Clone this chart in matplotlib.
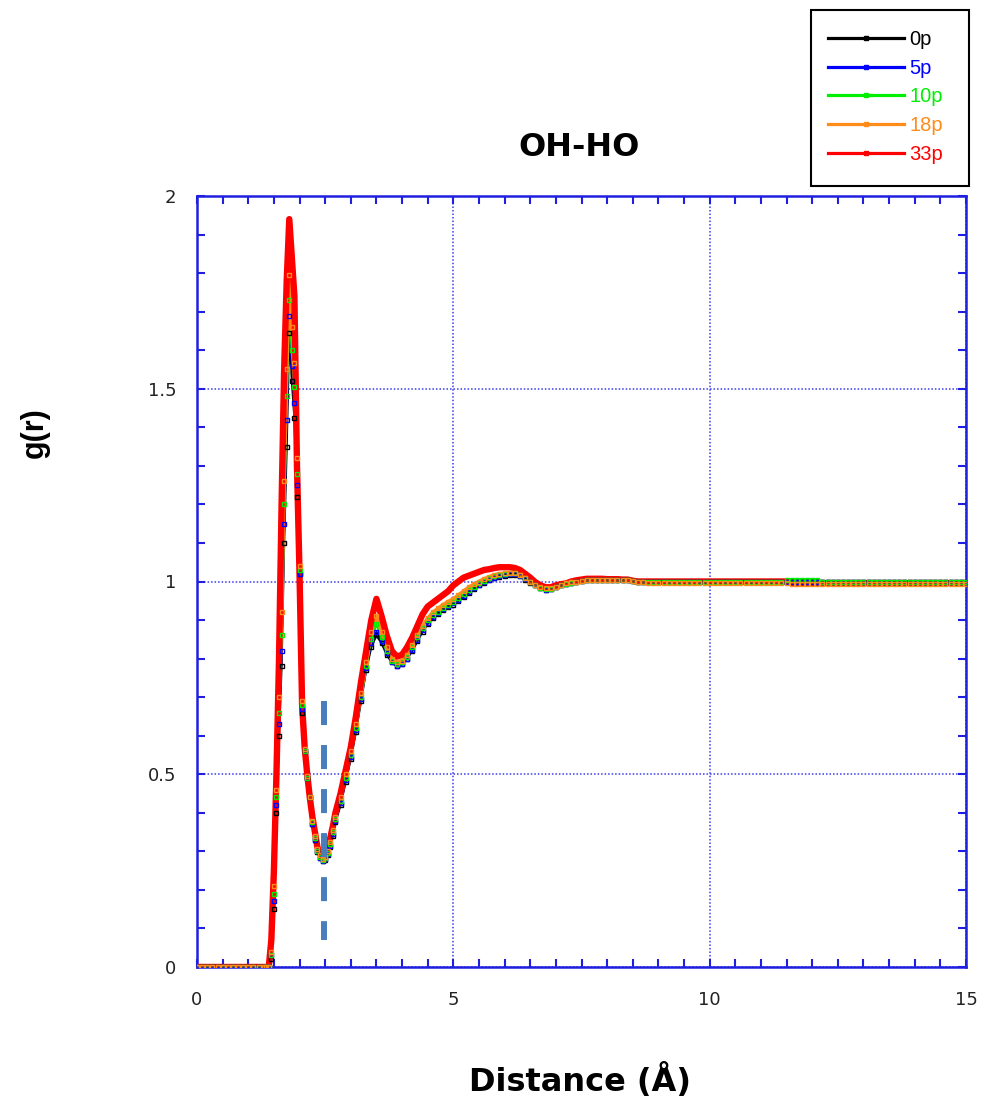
import numpy as np
import matplotlib
matplotlib.use("Agg")
import matplotlib.pyplot as plt
from matplotlib.lines import Line2D
from matplotlib.patches import Rectangle
from matplotlib.ticker import MultipleLocator

plt.rcParams['font.family'] = ['Liberation Sans', 'DejaVu Sans']

# ---------------- data ----------------
series_labels = ["0p", "5p", "10p", "18p", "33p"]
series_colors = ["#000000", "#0000ff", "#00ee00", "#ff8c1a", "#ff0000"]

# sampling grid of the distance axis (Å)
r_low = np.round(np.arange(0.0, 1.31, 0.1), 2)     # 14 points
r_peak = np.round(np.arange(1.35, 2.701, 0.05), 2)  # 28 points
r_high = np.round(np.arange(2.8, 15.001, 0.1), 2)   # 123 points
r = np.concatenate([r_low, r_peak, r_high])

g_low = [0.0, 0.0, 0.0, 0.0, 0.0, 0.0, 0.0, 0.0, 0.0, 0.0, 0.0, 0.0, 0.0, 0.0]

g_0p_peak = [0.0, 0.0, 0.02, 0.15, 0.40, 0.60, 0.78, 1.10, 1.35, 1.645, 1.52, 1.424, 1.22, 1.02,
             0.66, 0.56, 0.49, 0.44, 0.37, 0.33, 0.298, 0.282, 0.275, 0.278, 0.29, 0.312, 0.34, 0.375]
g_5p_peak = [0.0, 0.0, 0.03, 0.17, 0.42, 0.63, 0.82, 1.15, 1.42, 1.69, 1.56, 1.463, 1.25, 1.02,
             0.67, 0.56, 0.49, 0.44, 0.37, 0.33, 0.30, 0.283, 0.276, 0.28, 0.292, 0.315, 0.345, 0.38]
g_10p_peak = [0.0, 0.0, 0.03, 0.19, 0.44, 0.66, 0.86, 1.20, 1.48, 1.73, 1.60, 1.505, 1.28, 1.03,
              0.68, 0.56, 0.49, 0.44, 0.375, 0.335, 0.30, 0.285, 0.278, 0.282, 0.295, 0.32, 0.35, 0.385]
g_18p_peak = [0.0, 0.0, 0.04, 0.21, 0.46, 0.70, 0.92, 1.26, 1.55, 1.795, 1.66, 1.567, 1.32, 1.04,
              0.69, 0.565, 0.495, 0.44, 0.38, 0.34, 0.305, 0.29, 0.28, 0.285, 0.30, 0.325, 0.355, 0.39]
g_33p_peak = [0.0, 0.0, 0.07, 0.25, 0.50, 0.80, 1.20, 1.55, 1.78, 1.94, 1.84, 1.74, 1.30, 1.02,
              0.68, 0.57, 0.50, 0.44, 0.39, 0.35, 0.31, 0.295, 0.285, 0.29, 0.31, 0.335, 0.365, 0.40]

g_0p_high = [0.42, 0.48, 0.54, 0.61, 0.69, 0.77, 0.83, 0.86, 0.84, 0.81,
             0.79, 0.78, 0.785, 0.80, 0.82, 0.845, 0.87, 0.89, 0.905, 0.915,
             0.925, 0.935, 0.94, 0.95, 0.96, 0.97, 0.98, 0.99, 0.997, 1.003,
             1.008, 1.012, 1.015, 1.017, 1.017, 1.013, 1.005, 0.997, 0.99, 0.983,
             0.978, 0.98, 0.985, 0.99, 0.994, 0.997, 1.0, 1.002, 1.003, 1.004,
             1.004, 1.004, 1.004, 1.003, 1.003, 1.003, 1.003, 1.001, 1.0, 1.0,
             1.0, 1.0, 1.0, 1.0, 1.0, 1.0, 1.0, 1.0, 1.0, 1.0,
             1.0, 1.0, 1.0, 1.0, 1.0, 1.0, 1.0, 1.0, 1.0, 1.0,
             1.0, 1.0, 1.0, 1.0, 1.0, 1.0, 1.0, 1.0, 0.998, 0.998,
             0.998, 0.998, 0.998, 0.998, 0.998, 0.998, 0.998, 0.998, 0.998, 0.998,
             0.998, 0.998, 0.998, 0.998, 0.998, 0.998, 0.998, 0.998, 0.998, 0.998,
             0.998, 0.998, 0.998, 0.998, 0.998, 0.998, 0.998, 0.998, 0.998, 0.998,
             0.998, 0.998, 0.998]
g_5p_high = [0.425, 0.485, 0.545, 0.615, 0.695, 0.775, 0.84, 0.87, 0.845, 0.815,
             0.79, 0.78, 0.785, 0.80, 0.823, 0.848, 0.873, 0.893, 0.907, 0.918,
             0.928, 0.937, 0.943, 0.953, 0.963, 0.973, 0.983, 0.992, 0.999, 1.005,
             1.01, 1.014, 1.017, 1.019, 1.019, 1.015, 1.007, 0.998, 0.99, 0.983,
             0.978, 0.98, 0.985, 0.99, 0.994, 0.997, 1.0, 1.002, 1.003, 1.004,
             1.004, 1.004, 1.004, 1.003, 1.003, 1.003, 1.003, 1.001, 1.0, 1.0,
             1.0, 1.0, 1.0, 1.0, 1.0, 1.0, 1.0, 1.0, 1.0, 1.0,
             1.0, 1.0, 1.0, 1.0, 1.0, 1.0, 1.0, 1.0, 1.0, 1.0,
             1.0, 1.0, 1.0, 1.0, 1.0, 1.0, 1.0, 1.0, 0.998, 0.998,
             0.998, 0.998, 0.998, 0.998, 0.998, 0.998, 0.998, 0.998, 0.998, 0.998,
             0.998, 0.998, 0.998, 0.998, 0.998, 0.998, 0.998, 0.998, 0.998, 0.998,
             0.998, 0.998, 0.998, 0.998, 0.998, 0.998, 0.998, 0.998, 0.998, 0.998,
             0.998, 0.998, 0.998]
g_10p_high = [0.43, 0.49, 0.55, 0.62, 0.70, 0.78, 0.85, 0.89, 0.855, 0.82,
              0.795, 0.785, 0.79, 0.805, 0.83, 0.855, 0.88, 0.90, 0.912, 0.922,
              0.932, 0.94, 0.948, 0.958, 0.968, 0.978, 0.987, 0.995, 1.002, 1.008,
              1.013, 1.017, 1.02, 1.021, 1.021, 1.017, 1.009, 1.0, 0.991, 0.984,
              0.98, 0.981, 0.986, 0.99, 0.994, 0.997, 1.0, 1.002, 1.004, 1.005,
              1.005, 1.005, 1.005, 1.004, 1.004, 1.004, 1.003, 1.001, 1.0, 1.0,
              1.0, 1.0, 1.0, 1.0, 1.0, 1.0, 1.0, 1.0, 1.0, 1.0,
              1.0, 1.0, 1.0, 1.0, 1.0, 1.0, 1.0, 1.0, 1.0, 1.0,
              1.0, 1.0, 1.0, 1.0, 1.0, 1.0, 1.0, 1.005, 1.005, 1.005,
              1.005, 1.005, 1.005, 1.005, 0.998, 0.998, 0.998, 0.998, 0.998, 0.998,
              0.998, 0.998, 0.998, 0.998, 0.998, 0.998, 0.998, 0.998, 0.998, 0.998,
              0.998, 0.998, 0.998, 0.998, 0.998, 0.998, 0.998, 0.998, 0.998, 0.998,
              0.998, 0.998, 0.998]
g_18p_high = [0.44, 0.50, 0.56, 0.63, 0.71, 0.79, 0.87, 0.91, 0.87, 0.83,
              0.80, 0.79, 0.795, 0.81, 0.835, 0.86, 0.885, 0.905, 0.92, 0.93,
              0.94, 0.948, 0.955, 0.965, 0.975, 0.985, 0.993, 1.0, 1.007, 1.012,
              1.017, 1.02, 1.022, 1.023, 1.022, 1.018, 1.01, 1.0, 0.992, 0.986,
              0.982, 0.983, 0.987, 0.991, 0.995, 0.998, 1.0, 1.002, 1.004, 1.005,
              1.005, 1.005, 1.005, 1.004, 1.004, 1.004, 1.003, 1.001, 1.0, 0.998,
              0.997, 0.997, 0.997, 0.997, 0.997, 0.997, 0.997, 0.997, 0.997, 0.997,
              0.997, 0.997, 0.997, 0.997, 0.997, 0.997, 0.997, 0.997, 0.997, 0.997,
              0.997, 0.997, 0.997, 0.997, 0.997, 0.997, 0.997, 0.997, 0.994, 0.994,
              0.994, 0.994, 0.994, 0.994, 0.994, 0.994, 0.994, 0.994, 0.994, 0.994,
              0.994, 0.994, 0.994, 0.994, 0.994, 0.994, 0.994, 0.994, 0.994, 0.994,
              0.994, 0.994, 0.994, 0.994, 0.994, 0.994, 0.994, 0.994, 0.994, 0.994,
              0.994, 0.994, 0.994]
g_33p_high = [0.45, 0.51, 0.57, 0.65, 0.74, 0.82, 0.90, 0.955, 0.91, 0.86,
              0.82, 0.805, 0.81, 0.83, 0.855, 0.885, 0.915, 0.935, 0.945, 0.955,
              0.965, 0.975, 0.99, 1.0, 1.01, 1.015, 1.02, 1.025, 1.03, 1.032,
              1.035, 1.037, 1.037, 1.037, 1.035, 1.03, 1.02, 1.01, 0.998, 0.99,
              0.985, 0.985, 0.99, 0.993, 0.995, 1.0, 1.003, 1.005, 1.007, 1.007,
              1.007, 1.007, 1.006, 1.006, 1.006, 1.005, 1.005, 1.002, 1.0, 1.0,
              1.0, 1.0, 1.0, 1.0, 1.0, 1.0, 1.0, 1.0, 1.0, 1.0,
              1.0, 1.0, 1.0, 1.0, 1.0, 1.0, 1.0, 1.0, 1.0, 1.0,
              1.0, 1.0, 1.0, 1.0, 1.0, 1.0, 1.0, 1.0, 0.997, 0.996,
              0.996, 0.996, 0.996, 0.996, 0.996, 0.996, 0.996, 0.996, 0.996, 0.996,
              0.996, 0.996, 0.996, 0.996, 0.996, 0.996, 0.996, 0.996, 0.996, 0.996,
              0.996, 0.996, 0.996, 0.996, 0.996, 0.996, 0.996, 0.996, 0.996, 0.996,
              0.996, 0.996, 0.996]

series_values = [
    g_low + g_0p_peak + g_0p_high,
    g_low + g_5p_peak + g_5p_high,
    g_low + g_10p_peak + g_10p_high,
    g_low + g_18p_peak + g_18p_high,
    g_low + g_33p_peak + g_33p_high,
]

# first-minimum marker (dashed vertical line)
rmin_x = 2.48
rmin_y = [0.69, 0.07]

x_ticks = [0, 5, 10, 15]
y_ticks = [0, 0.5, 1, 1.5, 2]
y_tick_labels = ["0", "0.5", "1", "1.5", "2"]

# ---------------- figure ----------------
W, H = 985, 1103
fig = plt.figure(figsize=(W / 100, H / 100), dpi=100)
ax = fig.add_axes([197 / W, 1 - 967 / H, (966 - 197) / W, (967 - 196) / H])

spine_col = "#1f1fe0"
line_widths = [1.5, 1.5, 1.8, 2.6, 4.6]

for i, (vals, col) in enumerate(zip(series_values, series_colors)):
    ax.plot(r, vals, color=col, lw=line_widths[i], zorder=3 + i * 0.1,
            solid_joinstyle='round')
for i, (vals, col) in enumerate(zip(series_values[:4], series_colors[:4])):
    ax.plot(r, vals, ls='none', marker='s', markersize=3.2, mfc='none',
            mec=col, mew=1.0, zorder=4 + i * 0.1)

dash_lw = 4.3
ax.plot([rmin_x, rmin_x], rmin_y, color="#4a7ebb", lw=dash_lw,
        dashes=(17.3 / dash_lw, 14.4 / dash_lw), dash_capstyle='butt', zorder=6)

ax.set_xlim(0, 15)
ax.set_ylim(0, 2)
ax.set_xticks(x_ticks)
ax.set_xticklabels([str(t) for t in x_ticks])
ax.set_yticks(y_ticks)
ax.set_yticklabels(y_tick_labels)
ax.xaxis.set_minor_locator(MultipleLocator(0.5))
ax.yaxis.set_minor_locator(MultipleLocator(0.1))

ax.tick_params(which='both', direction='in', top=True, right=True,
               color=spine_col, width=1.5, labelsize=13, labelcolor="#222222")
ax.tick_params(which='major', length=6)
ax.tick_params(which='minor', length=6)
ax.tick_params(axis='x', pad=17)
ax.tick_params(axis='y', pad=15)
for lab in ax.get_xticklabels() + ax.get_yticklabels():
    lab.set_fontfamily('DejaVu Sans')

for sp in ax.spines.values():
    sp.set_color(spine_col)
    sp.set_linewidth(1.8)

ax.grid(True, which='major', color="#3a3aee", linestyle=(0, (1, 1.3)), lw=1.1)
ax.set_axisbelow(True)

fig.text(579 / W, 1 - 147 / H, "OH-HO", ha='center', va='center',
         fontsize=23, fontweight='bold', family='DejaVu Sans')
fig.text(580 / W, 1 - 1080 / H, "Distance (Å)", ha='center', va='center',
         fontsize=23, fontweight='bold', family='DejaVu Sans')
fig.text(35 / W, 1 - 433 / H, "g(r)", ha='center', va='center', rotation=90,
         fontsize=22, fontweight='bold')

# legend frame drawn as a rectangle in figure pixels, entries via legend
fig.patches.append(Rectangle((811 / W, 1 - 186 / H), (969 - 811) / W, (186 - 10) / H,
                             transform=fig.transFigure, fill=False,
                             edgecolor='black', lw=1.5, zorder=10))
handles = [Line2D([], [], color=c, lw=2.3, marker='s', markersize=3,
                  mfc=c, mec=c) for c in series_colors]
leg = fig.legend(handles, series_labels, loc='upper left',
                 bbox_to_anchor=(822 / W, 1 - 24 / H), bbox_transform=fig.transFigure,
                 fontsize=14.5, frameon=False,
                 handlelength=3.75, handletextpad=0.3, labelspacing=0.48,
                 borderpad=0.3, borderaxespad=0.0, numpoints=1)
for txt, c in zip(leg.get_texts(), series_colors):
    txt.set_color(c)

fig.savefig("out.png", dpi=100)
